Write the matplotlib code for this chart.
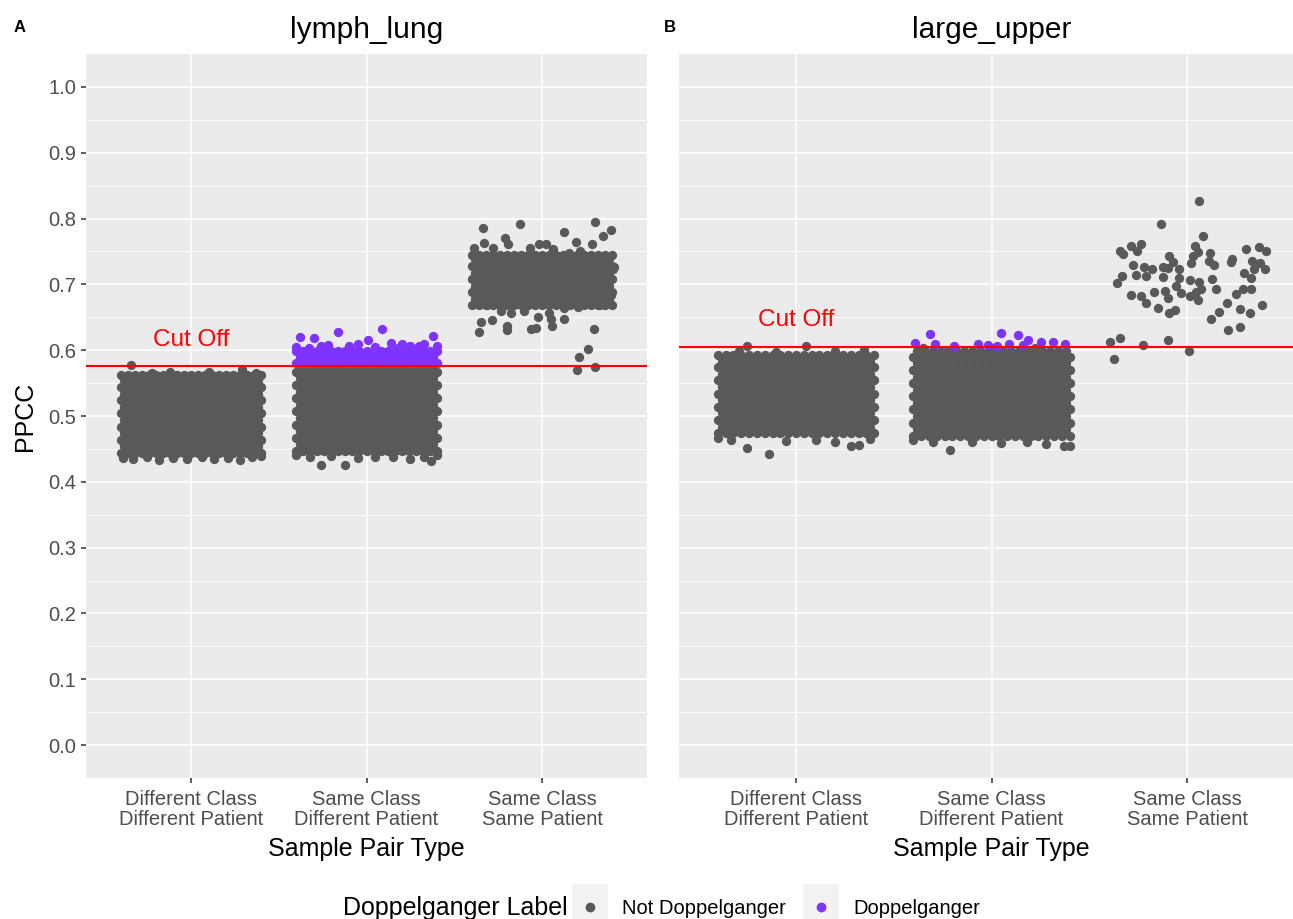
import matplotlib
matplotlib.use("Agg")
import matplotlib.pyplot as plt
from matplotlib.patches import Rectangle
from matplotlib.lines import Line2D

plt.rcParams["font.family"] = ["Liberation Sans", "DejaVu Sans"]

# ---- data -------------------------------------------------------------
categories = ["Different Class\nDifferent Patient",
              "Same Class\nDifferent Patient",
              "Same Class\nSame Patient"]
panel_titles = ["lymph_lung", "large_upper"]
panel_tags = ["A", "B"]
cutoffs = [0.5755, 0.6052]
legend_labels = ["Not Doppelganger", "Doppelganger"]
y_ticks = [0.0, 0.1, 0.2, 0.3, 0.4, 0.5, 0.6, 0.7, 0.8, 0.9, 1.0]

# jitter offsets used for the dense (overplotted) clouds
jitter_cols = [-0.40, -0.36, -0.32, -0.28, -0.24, -0.20, -0.16, -0.12, -0.08, -0.04,
               0.00, 0.04, 0.08, 0.12, 0.16, 0.20, 0.24, 0.28, 0.32, 0.36, 0.40]
jitter_cols_odd = [-0.38, -0.34, -0.30, -0.26, -0.22, -0.18, -0.14, -0.10, -0.06,
                   -0.02, 0.02, 0.06, 0.10, 0.14, 0.18, 0.22, 0.26, 0.30, 0.34, 0.38]

# lymph_lung: Different Class / Different Patient (all grey)
a_dcdp_rows = [0.444, 0.454, 0.464, 0.474, 0.484, 0.494, 0.504, 0.514, 0.524,
               0.534, 0.544, 0.554, 0.562]
a_dcdp_edge = [(-0.39, 0.436), (-0.33, 0.434), (-0.25, 0.437), (-0.18, 0.433),
               (-0.10, 0.436), (-0.02, 0.435), (0.06, 0.437), (0.13, 0.434),
               (0.21, 0.436), (0.28, 0.433), (0.35, 0.437), (0.40, 0.439),
               (-0.34, 0.577), (0.29, 0.572), (-0.12, 0.567), (0.10, 0.567),
               (0.37, 0.566), (-0.22, 0.566)]

# lymph_lung: Same Class / Different Patient
a_scdp_rows = [0.447, 0.457, 0.467, 0.477, 0.487, 0.497, 0.507, 0.517, 0.527,
               0.537, 0.547, 0.557, 0.567, 0.572]
a_scdp_edge = [(-0.26, 0.426), (-0.12, 0.426), (0.37, 0.431), (-0.40, 0.440),
               (-0.32, 0.437), (-0.20, 0.439), (-0.05, 0.436), (0.05, 0.438),
               (0.15, 0.437), (0.25, 0.435), (0.33, 0.438), (0.40, 0.441)]
a_scdp_dop_rows = [0.580, 0.589, 0.598]
a_scdp_dop_edge = [(-0.38, 0.620), (-0.30, 0.618), (-0.16, 0.628), (0.01, 0.615),
                   (0.09, 0.632), (0.38, 0.622), (-0.22, 0.608), (0.20, 0.609),
                   (0.30, 0.607), (-0.05, 0.610), (0.14, 0.611), (0.25, 0.606),
                   (-0.40, 0.605), (-0.10, 0.606), (0.33, 0.610), (-0.26, 0.606),
                   (-0.33, 0.604), (0.05, 0.605), (0.18, 0.604), (0.40, 0.606)]

# lymph_lung: Same Class / Same Patient
a_scsp_rows = [0.668, 0.678, 0.688, 0.698, 0.708, 0.718, 0.728, 0.738, 0.745]
a_scsp_edge = [(-0.334, 0.785), (-0.128, 0.791), (0.302, 0.794), (0.392, 0.782),
               (0.126, 0.779), (0.350, 0.773), (0.285, 0.762), (0.193, 0.764),
               (0.405, 0.724), (-0.350, 0.643), (-0.359, 0.628), (-0.287, 0.646),
               (-0.201, 0.637), (-0.201, 0.630), (-0.063, 0.632), (-0.034, 0.633),
               (0.052, 0.648), (0.059, 0.636), (0.128, 0.647), (0.294, 0.632),
               (0.260, 0.602), (0.208, 0.590), (0.197, 0.570), (0.304, 0.575),
               (-0.025, 0.651), (-0.388, 0.755), (-0.331, 0.763), (-0.208, 0.771),
               (-0.193, 0.761), (-0.067, 0.755), (-0.015, 0.761), (0.023, 0.761),
               (0.061, 0.753), (0.153, 0.747), (0.218, 0.750), (0.319, 0.743),
               (0.376, 0.740), (-0.279, 0.756), (-0.378, 0.676), (-0.311, 0.669),
               (-0.235, 0.659), (-0.178, 0.656), (-0.101, 0.659), (0.042, 0.656),
               (0.128, 0.664), (0.204, 0.666), (0.271, 0.674), (0.328, 0.669),
               (0.395, 0.684), (0.411, 0.727)]

# large_upper: Different Class / Different Patient
b_dcdp_rows = [0.474, 0.484, 0.494, 0.504, 0.514, 0.524, 0.534, 0.544, 0.554,
               0.564, 0.574, 0.584, 0.592]
b_dcdp_edge = [(-0.29, 0.598), (-0.25, 0.606), (0.05, 0.606), (0.35, 0.600),
               (-0.10, 0.597), (0.20, 0.598), (-0.40, 0.466), (-0.25, 0.452),
               (-0.14, 0.443), (0.28, 0.454), (0.32, 0.456), (-0.33, 0.463),
               (-0.05, 0.462), (0.10, 0.464), (0.20, 0.461), (0.38, 0.465)]

# large_upper: Same Class / Different Patient
b_scdp_rows = [0.470, 0.480, 0.490, 0.500, 0.510, 0.520, 0.530, 0.540, 0.550,
               0.560, 0.570, 0.580, 0.590, 0.598]
b_scdp_edge = [(-0.21, 0.448), (0.37, 0.454), (0.40, 0.455), (-0.40, 0.464),
               (-0.30, 0.460), (-0.10, 0.461), (0.05, 0.459), (0.18, 0.461),
               (0.28, 0.458), (-0.35, 0.603), (0.00, 0.603), (0.22, 0.603)]
b_scdp_dop = [(-0.314, 0.625), (-0.39, 0.611), (-0.287, 0.609), (-0.193, 0.606),
              (0.05, 0.626), (0.135, 0.623), (0.186, 0.616), (0.255, 0.613),
              (0.314, 0.612), (0.374, 0.610), (-0.019, 0.608), (0.092, 0.610),
              (-0.07, 0.609), (0.16, 0.608), (0.03, 0.607)]

# large_upper: Same Class / Same Patient (sparse)
b_scsp = [(0.062, 0.826), (-0.132, 0.791), (0.082, 0.774), (-0.345, 0.750),
          (-0.327, 0.746), (-0.289, 0.759), (-0.236, 0.762), (-0.256, 0.751),
          (0.043, 0.759), (0.058, 0.749), (0.029, 0.743), (0.118, 0.747),
          (-0.091, 0.743), (-0.073, 0.734), (0.021, 0.733), (0.113, 0.735),
          (0.140, 0.729), (0.304, 0.754), (0.368, 0.757), (0.402, 0.751),
          (0.231, 0.738), (0.224, 0.734), (0.330, 0.736), (0.374, 0.732),
          (0.400, 0.723), (0.345, 0.724), (0.291, 0.718), (0.327, 0.710),
          (0.325, 0.693), (0.284, 0.693), (0.251, 0.686), (0.386, 0.669),
          (0.270, 0.662), (0.320, 0.657), (0.204, 0.671), (0.166, 0.658),
          (0.125, 0.648), (0.212, 0.630), (0.272, 0.635), (0.150, 0.693),
          (0.128, 0.708), (-0.275, 0.730), (-0.219, 0.727), (-0.178, 0.724),
          (-0.121, 0.726), (-0.099, 0.725), (-0.335, 0.712), (-0.357, 0.702),
          (-0.262, 0.714), (-0.209, 0.713), (-0.121, 0.711), (-0.043, 0.724),
          (-0.043, 0.710), (-0.058, 0.697), (0.015, 0.707), (0.063, 0.703),
          (0.073, 0.693), (0.048, 0.689), (0.014, 0.682), (0.056, 0.676),
          (-0.032, 0.687), (-0.289, 0.684), (-0.237, 0.683), (-0.167, 0.688),
          (-0.114, 0.690), (-0.097, 0.680), (-0.210, 0.671), (-0.150, 0.664),
          (-0.092, 0.656), (-0.063, 0.661), (-0.396, 0.612), (-0.342, 0.619),
          (-0.371, 0.586), (-0.224, 0.608), (-0.097, 0.616), (0.012, 0.598)]

GREY = "#595959"
PURPLE = "#7F33FF"
BG = "#EBEBEB"
DOT = 45


def cloud(rows, edge):
    # even rows on the main jitter columns, odd rows on the in-between ones
    pts = []
    for i, y in enumerate(rows):
        cols = jitter_cols if i % 2 == 0 else jitter_cols_odd
        pts += [(dx, y) for dx in cols]
    return pts + list(edge)


panels = [
    {  # lymph_lung
        "grey": [(1, cloud(a_dcdp_rows, a_dcdp_edge)),
                 (2, cloud(a_scdp_rows, a_scdp_edge)),
                 (3, cloud(a_scsp_rows, a_scsp_edge))],
        "dop": [(2, cloud(a_scdp_dop_rows, a_scdp_dop_edge))],
    },
    {  # large_upper
        "grey": [(1, cloud(b_dcdp_rows, b_dcdp_edge)),
                 (2, cloud(b_scdp_rows, b_scdp_edge)),
                 (3, list(b_scsp))],
        "dop": [(2, list(b_scdp_dop))],
    },
]

# ---- figure -------------------------------------------------------------
W, H = 1293, 919
fig = plt.figure(figsize=(W / 100, H / 100), dpi=100)
axes = [fig.add_axes([85.7 / W, 1 - 778 / H, 561.6 / W, 724 / H]),
        fig.add_axes([678.7 / W, 1 - 778 / H, 625.6 / W, 724 / H])]

for i, ax in enumerate(axes):
    ax.set_facecolor(BG)
    for s in ax.spines.values():
        s.set_visible(False)
    ax.set_xlim(0.4, 3.6)
    ax.set_ylim(-0.05, 1.05)
    ax.set_yticks(y_ticks)
    ax.set_yticks([v + 0.05 for v in y_ticks[:-1]], minor=True)
    ax.set_xticks([1, 2, 3])
    ax.set_xticklabels(categories, linespacing=1.08)
    ax.grid(True, which="major", color="white", linewidth=1.1)
    ax.grid(True, which="minor", axis="y", color="white", linewidth=0.55)
    ax.set_axisbelow(True)
    ax.tick_params(which="major", length=3.6, width=1.1, color="#333333",
                   labelsize=14.5, labelcolor="#4D4D4D", pad=3)
    ax.tick_params(axis="x", which="major", pad=5)
    ax.tick_params(which="minor", length=0)
    for lbl in ax.get_xticklabels():
        lbl.set_horizontalalignment("center")

    d = panels[i]
    for cat, pts in d["grey"]:
        ax.scatter([cat + p[0] for p in pts], [p[1] for p in pts], s=DOT,
                   color=GREY, linewidths=0, zorder=3)
    for cat, pts in d["dop"]:
        ax.scatter([cat + p[0] for p in pts], [p[1] for p in pts], s=DOT,
                   color=PURPLE, linewidths=0, zorder=3)

    ax.axhline(cutoffs[i], color="red", linewidth=1.5, zorder=4)
    ax.text(1, cutoffs[i] + 0.04, "Cut Off", color="red", fontsize=17.5,
            ha="center", va="center", zorder=5)

    ax.set_title(panel_titles[i], fontsize=21.5, pad=0, y=1.022)
    ax.set_xlabel("Sample Pair Type", fontsize=18)
    ax.xaxis.set_label_coords(0.5, (778 - 849) / 724)
    ax.xaxis.label.set_va("center")

axes[0].set_ylabel("PPCC", fontsize=18)
axes[0].yaxis.set_label_coords((25 - 85.7) / 561.6, 0.5)
axes[0].yaxis.label.set_va("center")
axes[1].tick_params(axis="y", which="both", left=False, labelleft=False)

# panel tags
fig.text(20 / W, 1 - 28 / H, panel_tags[0], fontsize=12, fontweight="bold",
         ha="center", va="center")
fig.text(670 / W, 1 - 28 / H, panel_tags[1], fontsize=12, fontweight="bold",
         ha="center", va="center")

# legend (ggplot style, title to the left of the keys)
fig.text(568 / W, 1 - 908 / H, "Doppelganger Label", fontsize=18,
         ha="right", va="center")
for key_x, text_x, col, lab in [(572, 622, GREY, legend_labels[0]),
                                (803, 853, PURPLE, legend_labels[1])]:
    fig.add_artist(Rectangle((key_x / W, 1 - 921 / H), 36 / W, 37 / H,
                             transform=fig.transFigure, facecolor="#F2F2F2",
                             edgecolor="none"))
    fig.add_artist(Line2D([(key_x + 18) / W], [1 - 907 / H], marker="o",
                          markersize=6, color=col, linestyle="none",
                          transform=fig.transFigure))
    fig.text(text_x / W, 1 - 908 / H, lab, fontsize=14.5, ha="left", va="center")

fig.savefig("out.png", dpi=100)
